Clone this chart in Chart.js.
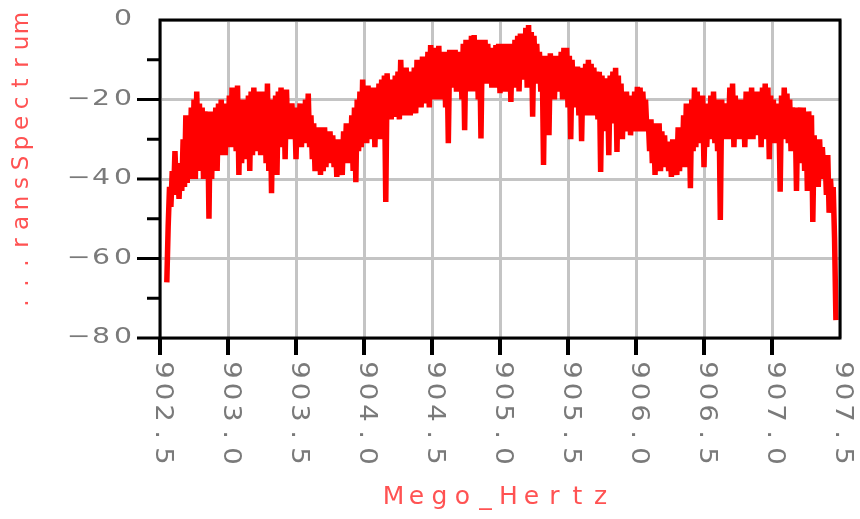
<!DOCTYPE html>
<html>
<head>
<meta charset="utf-8">
<script src="https://cdn.jsdelivr.net/npm/chart.js@4.4.1/dist/chart.umd.min.js"></script>
<style>
  html, body { margin: 0; padding: 0; background: #fff; }
  #wrap { width: 860px; height: 519px; }
</style>
</head>
<body>
<div id="wrap"><canvas id="spectrum" width="860" height="519"></canvas></div>
<script>
// spectrum bins (MHz)
const freqStart = 902.55;
const freqStep = 0.01;

// measured power per bin (dB)
const power = [
    -66, -52, -42, -47, -38, -44, -33, -42, -38, -45,
    -36, -43, -30, -42, -24, -41, -26, -40, -22, -38,
    -20, -40, -18, -36, -21, -38, -22, -40, -23, -38,
    -24, -50, -23, -40, -24, -36, -22, -38, -21, -34,
    -20, -32, -22, -34, -21, -30, -19, -32, -17, -30,
    -18, -33, -16.5, -39, -20, -36, -22, -33, -20, -35,
    -19, -38, -18, -34, -17, -30, -19, -33, -18, -34,
    -20, -33, -18, -36, -16, -38, -20, -43.6, -21, -35,
    -19, -39, -18, -32, -17, -30, -18, -35, -17.5, -30,
    -21, -28, -21, -30, -22, -35, -22, -30, -21, -32,
    -21, -30, -20, -31, -18.5, -32, -24, -35, -26, -38,
    -27, -37, -27, -39, -27, -38, -27, -37, -28, -36,
    -28, -35, -29, -37, -30, -39.5, -31, -38, -30, -39,
    -28, -36, -26, -35, -27, -36, -24, -38, -22, -40.8,
    -20, -33, -18, -32, -15, -30, -17, -31, -16.5, -28,
    -17, -30, -17, -32, -18, -30, -16, -26, -15, -30,
    -14, -45.8, -13.4, -24, -15, -25, -15, -24.4, -14, -23,
    -13, -25, -10, -22, -12, -24, -12, -22, -13, -24,
    -14, -22, -12, -23.5, -10, -21, -11, -22, -9.2, -20,
    -10, -21, -8, -22, -6.3, -18, -8, -20, -7, -18,
    -6.5, -20, -8, -19, -9, -22, -8, -31, -7.5, -17,
    -8, -16, -7.5, -18, -9, -14, -8, -20, -6, -27.7,
    -5, -15, -5, -18, -4, -16, -3.8, -18, -5, -20,
    -6, -29.8, -5, -15, -5, -16, -6, -14, -7, -17,
    -7, -16.8, -6.3, -17, -6, -18.4, -7, -16, -6, -18,
    -6, -16, -7, -20.6, -6, -17, -5, -16, -4, -18,
    -3.4, -15, -4, -14, -2, -17, -1.3, -16, -3, -24.3,
    -4, -16, -6, -15, -8, -18, -9, -36.5, -10, -20,
    -9, -29, -8.4, -18, -9, -20, -9, -18, -10, -17,
    -8, -20, -7, -19, -7, -22, -9, -30, -10, -20,
    -12, -22, -11.7, -24, -12, -30.5, -13, -22, -11, -24,
    -10, -22, -11, -24, -12, -20, -13, -25, -13, -38.2,
    -14, -26, -14.7, -28, -15, -34, -14, -26, -13, -25,
    -12, -33.2, -14, -28, -16, -30, -18, -26, -18, -28,
    -19, -29, -20, -27, -18, -28, -16.8, -26, -17, -28,
    -18, -25, -20, -28, -25, -33, -25, -36, -26, -39,
    -27, -37, -26, -38, -28, -36, -29, -37, -30.6, -38,
    -31, -39.5, -30, -38, -31, -39, -27, -38, -27, -36,
    -24, -37, -21, -35, -22, -42.3, -20, -33, -17, -32,
    -18, -30, -20, -31, -19, -37, -21, -32, -22, -30,
    -19, -30, -18, -31, -20, -33, -21, -50.3, -20, -29.4,
    -22, -30, -21, -28, -17, -30, -16, -32, -19, -30,
    -20, -29, -21, -30, -20, -32, -18, -30, -19, -29,
    -17, -30, -18, -29, -19, -28, -18, -32, -17, -30,
    -16, -28, -17, -35, -19, -30, -20, -31, -21, -30,
    -22, -43.2, -19, -30, -17, -28, -18.5, -31, -20, -33,
    -22, -32, -22, -43, -23, -34, -22, -36, -22, -38,
    -23, -43, -23, -38, -24, -50.8, -29, -40, -30, -42,
    -30, -40, -32, -38, -34, -44, -34, -48.5, -40, -46,
    -42, -55, -75.5
];

// axis ticks
const xTicks = [902.5, 903.0, 903.5, 904.0, 904.5, 905.0, 905.5, 906.0, 906.5, 907.0, 907.5];
const xTickLabels = ['902.5', '903.0', '903.5', '904.0', '904.5', '905.0', '905.5', '906.0', '906.5', '907.0', '907.5'];
const yTicks = [0, -20, -40, -60, -80];
const yTickLabels = ['0', '\u221220', '\u221240', '\u221260', '\u221280'];
const yMinorTicks = [-10, -30, -50, -70];

const xTitle = 'Mego_Hertz';
const yTitle = '...ransSpectrum';

const points = power.map((p, i) => ({ x: Number((freqStart + i * freqStep).toFixed(3)), y: p }));

// draws text one glyph at a time on a fixed pitch, like the old plotter font
function drawSpaced(ctx, text, x, y, pitch, angle, stretch) {
    ctx.save();
    ctx.translate(x, y);
    ctx.rotate(angle);
    [...text].forEach((ch, k) => {
        ctx.save();
        ctx.translate(k * pitch, 0);
        ctx.scale(stretch, 1);
        ctx.fillText(ch, 0, 0);
        ctx.restore();
    });
    ctx.restore();
}

const frame = {
    id: 'frame',
    afterDraw(chart) {
        const ctx = chart.ctx;
        const area = chart.chartArea;
        const xs = chart.scales.x;
        const ys = chart.scales.y;

        ctx.save();
        // plot box
        ctx.strokeStyle = '#000';
        ctx.lineWidth = 3;
        ctx.strokeRect(area.left, area.top, area.right - area.left, area.bottom - area.top);

        // y tick marks
        ctx.beginPath();
        yTicks.slice(1).forEach(v => {
            const py = ys.getPixelForValue(v);
            ctx.moveTo(area.left - 23, py);
            ctx.lineTo(area.left, py);
        });
        yMinorTicks.forEach(v => {
            const py = ys.getPixelForValue(v);
            ctx.moveTo(area.left - 13, py);
            ctx.lineTo(area.left, py);
        });
        ctx.stroke();

        // x tick marks
        ctx.lineWidth = 4;
        ctx.beginPath();
        xTicks.slice(0, -1).forEach(v => {
            const px = xs.getPixelForValue(v);
            ctx.moveTo(px, area.bottom);
            ctx.lineTo(px, area.bottom + 17);
        });
        ctx.stroke();

        // tick labels
        ctx.fillStyle = '#7a7a7a';
        ctx.textAlign = 'center';
        ctx.textBaseline = 'middle';
        ctx.font = '21px "DejaVu Sans"';
        yTickLabels.forEach((lbl, k) => {
            const py = ys.getPixelForValue(yTicks[k]);
            const n = [...lbl].length;
            drawSpaced(ctx, lbl, 123 - (n - 1) * 22, py, 22, 0, 1.35);
        });
        ctx.font = '25px "DejaVu Sans"';
        xTickLabels.forEach((lbl, k) => {
            const px = xs.getPixelForValue(xTicks[k]) + 2;
            drawSpaced(ctx, lbl, px, 370, 21.5, Math.PI / 2, 1.1);
        });

        // axis titles
        ctx.fillStyle = '#ff5252';
        ctx.font = '25px "DejaVu Sans"';
        drawSpaced(ctx, xTitle, 393.5, 497, 23, 0, 1.0);
        ctx.font = '23px "DejaVu Sans"';
        drawSpaced(ctx, yTitle, 22, 303, 20, -Math.PI / 2, 1.0);
        ctx.restore();
    }
};

new Chart(document.getElementById('spectrum'), {
    type: 'line',
    data: {
        datasets: [{
            data: points,
            borderColor: '#ff0000',
            borderWidth: 5.5,
            borderJoinStyle: 'bevel',
            pointRadius: 0,
            tension: 0,
            fill: false
        }]
    },
    options: {
        responsive: false,
        animation: false,
        devicePixelRatio: 1,
        layout: { padding: { left: 160, right: 20, top: 20, bottom: 181 } },
        plugins: {
            legend: { display: false },
            tooltip: { enabled: false }
        },
        scales: {
            x: {
                type: 'linear',
                min: 902.5,
                max: 907.5,
                ticks: { display: false, stepSize: 0.5 },
                grid: { color: '#c4c4c4', lineWidth: 3, drawTicks: false },
                border: { display: false }
            },
            y: {
                min: -80,
                max: 0,
                ticks: { display: false, stepSize: 20 },
                grid: { color: '#c4c4c4', lineWidth: 3, drawTicks: false },
                border: { display: false }
            }
        }
    },
    plugins: [frame]
});
</script>
</body>
</html>
